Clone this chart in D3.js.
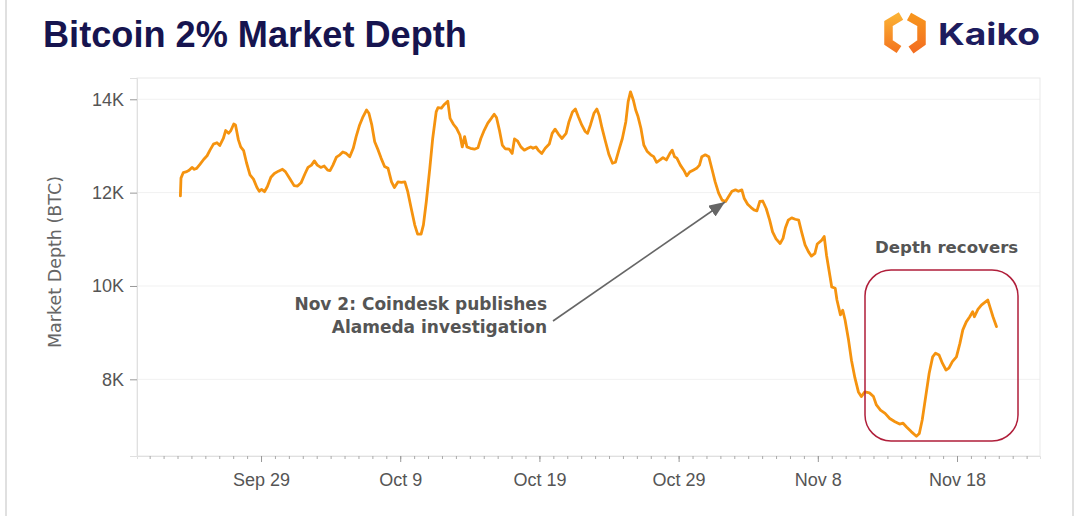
<!DOCTYPE html>
<html><head><meta charset="utf-8">
<script src="https://cdn.jsdelivr.net/npm/d3@7"></script>
<style>body{margin:0;background:#fff;} svg{display:block;}</style>
</head><body><svg id="c" width="1080" height="516"></svg>
<script>
// ---------------- DATA ----------------
const START = "2022-09-23T00:00:00Z";
// hours since START
const hours = [5,6,10,16,20,25,29,33,39,45,
51,56,62,68,73,79,83,88,92,97,
100,105,109,114,119,125,131,137,141,145,
150,155,161,167,174,181,186,194,201,207,
213,220,225,231,236,241,247,253,259,263,
268,274,280,285,291,297,303,308,314,320,
326,330,335,340,346,351,357,363,369,374,
380,386,392,397,403,409,414,420,424,429,
435,440,446,449,455,460,466,470,476,481,
487,491,495,499,505,512,518,523,529,535,
541,546,550,555,560,565,572,577,581,586,
592,598,604,609,613,618,622,628,634,641,
646,651,657,663,670,675,681,686,691,697,
703,707,712,718,723,727,732,738,744,750,
755,761,767,773,777,781,786,790,794,799,
804,810,816,821,826,832,837,843,849,853,
857,861,867,873,878,883,889,895,900,904,
910,916,922,927,933,939,945,950,956,962,
967,973,977,983,989,994,999,1004,1009,1015,
1021,1026,1032,1039,1044,1048,1053,1059,1065,1071,
1076,1082,1088,1093,1099,1103,1110,1115,1119,1125,
1128,1134,1137,1143,1147,1151,1157,1162,1168,1174,
1179,1185,1193,1200,1205,1212,1220,1228,1237,1245,
1251,1257,1265,1274,1279,1284,1290,1296,1302,1307,
1313,1319,1325,1330,1336,1343,1349,1354,1360,1366,
1371,1374,1380,1386,1393,1397,1401,1406,1412];
// 2% market depth, BTC
const depth = [11930,12310,12430,12450,12480,12540,12500,12520,12610,12710,
12790,12910,13040,13070,13010,13160,13330,13270,13330,13470,
13450,13130,12980,12900,12640,12380,12290,12110,12030,12070,
12020,12130,12330,12410,12460,12500,12450,12290,12150,12140,
12210,12410,12540,12590,12680,12590,12540,12570,12480,12470,
12590,12760,12810,12870,12840,12770,12950,13200,13450,13630,
13770,13700,13450,13090,12910,12740,12560,12520,12230,12110,
12230,12220,12230,12020,11660,11310,11110,11110,11310,11810,
12520,13160,13730,13820,13810,13890,13960,13590,13460,13380,
13230,12980,13200,12980,12950,12930,12960,13160,13340,13490,
13590,13680,13610,13340,13020,12940,12930,12840,13150,13110,
12980,12910,12950,12980,12950,12980,12910,12840,12950,13040,
13270,13360,13250,13160,13270,13520,13730,13790,13630,13450,
13310,13270,13450,13700,13790,13660,13380,13090,12810,12630,
12650,12910,13160,13520,13950,14160,13980,13770,13630,13380,
13020,12880,12810,12770,12650,12700,12750,12700,12840,12910,
12770,12740,12590,12480,12360,12440,12480,12520,12590,12770,
12810,12770,12480,12230,11990,11840,11810,11910,12030,12060,
12030,12060,11880,11750,11680,11630,11610,11810,11820,11660,
11410,11160,11010,10910,11020,11240,11410,11460,11430,11410,
11160,10880,10730,10640,10700,10900,10970,11060,10660,10210,
9980,9950,9700,9380,9480,9270,8840,8410,8030,7730,
7630,7730,7710,7630,7450,7340,7270,7160,7090,7040,
7060,6980,6880,6780,6840,7130,7630,8130,8480,8560,
8520,8340,8200,8240,8380,8480,8770,9060,9230,9340,
9450,9340,9500,9590,9660,9700,9540,9340,9130];

const xTickDates = ["2022-09-29","2022-10-09","2022-10-19","2022-10-29","2022-11-08","2022-11-18"];
const xTickLabels = ["Sep 29","Oct 9","Oct 19","Oct 29","Nov 8","Nov 18"];
const yTickValues = [8000,10000,12000,14000];
const yTickLabels = ["8K","10K","12K","14K"];
const xDomain = ["2022-09-20T02:10:00Z","2022-11-23T23:05:00Z"];
const yDomain = [6357,14456];

const TITLE = "Bitcoin 2% Market Depth";
const Y_TITLE = "Market Depth (BTC)";
const NOTE_LINES = ["Nov 2: Coindesk publishes","Alameda investigation"];
const RECOVER = "Depth recovers";

// ---------------- CHART ----------------
const svg = d3.select("#c");
const L=137, R=1040, T=78, B=456;
const x = d3.scaleUtc().domain(xDomain.map(d=>new Date(d))).range([L,R]);
const y = d3.scaleLinear().domain(yDomain).range([B,T]);
const t0 = Date.parse(START);
const data = hours.map((h,i)=>({t:new Date(t0+h*3600e3), v:depth[i]}));

const FONT = "'Liberation Sans', Arial, sans-serif";
const VFONT = "'DejaVu Sans', Verdana, sans-serif";

// card borders
svg.append("line").attr("x1",6).attr("x2",6).attr("y1",0).attr("y2",516).attr("stroke","#d6d6d6").attr("stroke-width",1.5);
svg.append("line").attr("x1",1073).attr("x2",1073).attr("y1",0).attr("y2",516).attr("stroke","#d6d6d6").attr("stroke-width",1.5);

// title
const title = svg.append("text").attr("x",43).attr("y",47)
  .attr("font-family",FONT).attr("font-weight","bold")
  .attr("font-size",34).attr("fill","#16144f").text(TITLE);
const tw = title.node().getComputedTextLength();
title.attr("font-size", 34*424/tw);

// logo
const defs = svg.append("defs");
const g1 = defs.append("linearGradient").attr("id","lg1").attr("x1","0").attr("y1","0").attr("x2","0").attr("y2","1");
g1.append("stop").attr("offset","0").attr("stop-color","#fbb034");
g1.append("stop").attr("offset","1").attr("stop-color","#f47920");
const g2 = defs.append("linearGradient").attr("id","lg2").attr("x1","0").attr("y1","0").attr("x2","0").attr("y2","1");
g2.append("stop").attr("offset","0").attr("stop-color","#f7941d");
g2.append("stop").attr("offset","1").attr("stop-color","#f36f21");
const lg = svg.append("g").attr("fill","none").attr("stroke-width",8.5).attr("stroke-linejoin","miter");
lg.append("path").attr("d","M901,16 L888.5,23.5 L888.5,42.5 L899,49.5").attr("stroke","url(#lg1)");
lg.append("path").attr("d","M909,16.5 L921.5,23.5 L921.5,42.5 L911,50").attr("stroke","url(#lg2)");
svg.append("text").attr("x",938).attr("y",45).attr("font-family","Inter, 'Noto Sans', sans-serif")
  .attr("font-weight","bold").attr("font-size",30).attr("fill","#1d1c5e")
  .attr("textLength",102).attr("lengthAdjust","spacingAndGlyphs").text("Kaiko");

// gridlines
svg.append("g").selectAll("line").data(yTickValues).join("line")
  .attr("x1",L).attr("x2",R).attr("y1",d=>y(d)).attr("y2",d=>y(d))
  .attr("stroke","#f1f1f1").attr("stroke-width",1);

// frame
svg.append("rect").attr("x",L).attr("y",T).attr("width",R-L).attr("height",B-T)
  .attr("fill","none").attr("stroke","#e9e9e9").attr("stroke-width",1);

// y axis
const ya = svg.append("g").attr("transform",`translate(${L},0)`)
  .call(d3.axisLeft(y).tickValues(yTickValues).tickFormat((d,i)=>yTickLabels[i]).tickSize(7).tickPadding(6));
ya.select(".domain").attr("stroke","#e0e0e0");
ya.selectAll(".tick line").attr("stroke","#999");
ya.selectAll(".tick text").attr("fill","#555").attr("font-size",18).attr("font-family",FONT);

// x axis minor ticks
const minor = d3.utcDay.range(x.domain()[0], x.domain()[1]);
const xm = svg.append("g").attr("transform",`translate(0,${B})`)
  .call(d3.axisBottom(x).tickValues(minor).tickSize(3).tickFormat(""));
xm.select(".domain").attr("stroke","#e0e0e0");
xm.selectAll(".tick line").attr("stroke","#aaa");
// x axis major ticks
const xa = svg.append("g").attr("transform",`translate(0,${B})`)
  .call(d3.axisBottom(x).tickValues(xTickDates.map(d=>new Date(d+"T00:00:00Z")))
    .tickFormat((d,i)=>xTickLabels[i]).tickSize(6).tickPadding(11));
xa.select(".domain").remove();
xa.selectAll(".tick line").attr("stroke","#999");
xa.selectAll(".tick text").attr("fill","#555").attr("font-size",18).attr("font-family",FONT);

// y title
svg.append("text").attr("transform","translate(61,262) rotate(-90)").attr("text-anchor","middle")
  .attr("font-family",VFONT).attr("font-size",17.5).attr("fill","#666").text(Y_TITLE);

// line
svg.append("path").datum(data)
  .attr("d", d3.line().x(d=>x(d.t)).y(d=>y(d.v)))
  .attr("fill","none").attr("stroke","#f5930f").attr("stroke-width",2.8)
  .attr("stroke-linejoin","round").attr("stroke-linecap","round");

// annotation
const mk = defs.append("marker").attr("id","ah").attr("markerUnits","userSpaceOnUse")
  .attr("markerWidth",17).attr("markerHeight",13).attr("refX",16).attr("refY",6.5).attr("orient","auto");
mk.append("path").attr("d","M0,0 L16,6.5 L0,13 Z").attr("fill","#666");
svg.append("line").attr("x1",553).attr("y1",321).attr("x2",725).attr("y2",202)
  .attr("stroke","#666").attr("stroke-width",1.6).attr("marker-end","url(#ah)");
svg.append("g").selectAll("text").data(NOTE_LINES).join("text")
  .attr("x",547).attr("y",(d,i)=>310+i*23).attr("text-anchor","end")
  .attr("font-family",VFONT).attr("font-weight","bold").attr("font-size",17).attr("fill","#555").text(d=>d);

svg.append("text").attr("x",875).attr("y",253).attr("font-family",VFONT).attr("font-weight","bold")
  .attr("font-size",16.6).attr("fill","#555").text(RECOVER);
svg.append("rect").attr("x",865).attr("y",270).attr("width",153).attr("height",171).attr("rx",26)
  .attr("fill","none").attr("stroke","#b01e3a").attr("stroke-width",1.5);
</script></body></html>
